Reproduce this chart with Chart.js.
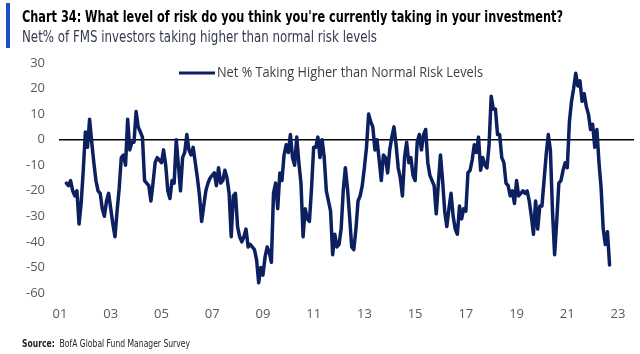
<!DOCTYPE html>
<html>
<head>
<meta charset="utf-8">
<script src="https://cdn.jsdelivr.net/npm/chart.js@4"></script>
<style>
  html, body { margin:0; padding:0; background:#fff; }
  #wrap { position:relative; width:640px; height:354px; overflow:hidden; }
  #c { position:absolute; left:0; top:0; }
  .t { position:absolute; white-space:nowrap; transform-origin:0 50%; }
  #bar { position:absolute; left:6px; top:3px; width:4px; height:45px; background:#1d4fc4; }
  #title { left:22px; top:7px; font:bold 16px "Liberation Sans Narrow","DejaVu Sans Condensed",sans-serif; color:#000; }
  #sub { left:22px; top:28px; font:15px "Liberation Sans Narrow","DejaVu Sans Condensed",sans-serif; color:#333a4d; }
  #src { left:22px; top:338px; font:10px "Liberation Sans Narrow","DejaVu Sans Condensed",sans-serif; color:#222; }
</style>
</head>
<body>
<div id="wrap">
  <canvas id="c" width="640" height="354"></canvas>
  <div id="bar"></div>
  <div class="t" id="title" data-w="541">Chart 34: What level of risk do you think you're currently taking in your investment?</div>
  <div class="t" id="sub" data-w="355">Net% of FMS investors taking higher than normal risk levels</div>
  <div class="t" id="src" data-w="168"><b>Source:</b>&nbsp; BofA Global Fund Manager Survey</div>
</div>
<script>
// ---- data (monthly, starting April 2001) ----
const startYear = 2001;
const startMonth = 4; // April
const seriesLabel = "Net % Taking Higher than Normal Risk Levels";
const values = [
  -17,-18,-16,-20,-22,-20,-33,-25,-12,3,-3,8,
  -1,-9,-16,-20,-21,-27,-30,-24,-21,-27,-33,-38,
  -28,-19,-7,-6,-10,8,-4,-1,-1,11,5,3,
  1,-16,-17,-18,-24,-17,-9,-7,-8,-9,-4,-10,
  -20,-23,-16,-17,0,-10,-20,-7,-5,2,-4,-6,
  -3,-9,-15,-22,-32,-26,-20,-17,-15,-14,-13,-18,
  -11,-17,-16,-12,-15,-21,-38,-22,-21,-34,-38,-40,
  -38,-35,-42,-41,-42,-43,-47,-56,-50,-53,-46,-42,
  -44,-48,-21,-17,-27,-13,-16,-6,-2,-5,2,-7,
  -10,1,-9,-17,-38,-27,-31,-32,-19,-3,-3,1,
  -7,0,-7,-20,-24,-28,-45,-37,-42,-41,-35,-20,
  -11,-19,-30,-42,-43,-35,-24,-22,-18,-11,-3,10,
  7,5,-4,0,-8,-16,-6,-7,-13,-4,1,5,
  -2,-11,-15,-22,-7,-1,-9,-7,-14,-16,-1,2,
  -4,2,4,-9,-14,-16,-18,-29,-17,-6,-16,-28,
  -34,-27,-21,-30,-35,-37,-26,-31,-27,-28,-13,-12,
  -8,-2,-5,1,-12,-7,-10,-11,-2,17,12,12,
  2,2,-7,-9,-17,-18,-22,-20,-25,-16,-22,-21,
  -20,-21,-20,-24,-30,-37,-24,-35,-26,-26,-16,-6,
  2,-4,-28,-45,-32,-17,-16,-12,-9,-11,7,15,
  20,26,21,23,15,18,13,10,4,6,-3,4,
  -9,-19,-35,-41,-36,-49
];
const xTickYears = [2001,2003,2005,2007,2009,2011,2013,2015,2017,2019,2021,2023];
const xTickLabels = ["01","03","05","07","09","11","13","15","17","19","21","23"];
const yTicks = [30,20,10,0,-10,-20,-30,-40,-50,-60];

const points = values.map((v, i) => ({ x: startYear + (startMonth - 1 + i) / 12, y: v }));

const lineColor = '#0c1f5f';
const tickColor = '#595959';
const tickFont = { family: "'Open Sans', sans-serif", size: 13 };

const legendPlugin = {
  id: 'inlineLegend',
  afterDraw(chart) {
    const ctx = chart.ctx;
    const ds = chart.data.datasets[0];
    ctx.save();
    ctx.strokeStyle = ds.borderColor;
    ctx.lineWidth = 3;
    ctx.beginPath();
    ctx.moveTo(179, 73); ctx.lineTo(215, 73);
    ctx.stroke();
    ctx.font = "14px 'Open Sans', sans-serif";
    ctx.fillStyle = '#404040';
    ctx.textBaseline = 'middle';
    const w = ctx.measureText(ds.label).width;
    const target = 266;
    ctx.translate(217, 73);
    ctx.scale(target / w, 1);
    ctx.fillText(ds.label, 0, 0);
    ctx.restore();
  }
};

new Chart(document.getElementById('c'), {
  type: 'line',
  data: {
    datasets: [{
      label: seriesLabel,
      data: points,
      borderColor: lineColor,
      backgroundColor: lineColor,
      borderWidth: 3.5,
      pointRadius: 0,
      tension: 0,
      borderJoinStyle: 'round',
      borderCapStyle: 'round'
    }]
  },
  options: {
    responsive: false,
    animation: false,
    devicePixelRatio: 1,
    layout: { padding: { left: 0, right: 6, top: 63, bottom: 0 } },
    plugins: { legend: { display: false }, tooltip: { enabled: false } },
    scales: {
      x: {
        type: 'linear',
        min: 2000.96,
        max: 2023.63,
        grid: { display: false },
        border: { display: false },
        afterBuildTicks: (scale) => { scale.ticks = xTickYears.map(v => ({ value: v })); },
        afterFit: (scale) => { scale.height = 61; },
        ticks: {
          color: tickColor, font: tickFont, padding: 5, maxRotation: 0, autoSkip: false,
          callback: (v) => { const k = xTickYears.indexOf(v); return k >= 0 ? xTickLabels[k] : ''; }
        }
      },
      y: {
        min: -60, max: 30,
        afterBuildTicks: (scale) => { scale.ticks = yTicks.map(v => ({ value: v })); },
        afterFit: (scale) => { scale.width = 59; },
        grid: {
          drawTicks: false,
          color: (c) => c.tick && c.tick.value === 0 ? '#000' : 'rgba(0,0,0,0)',
          lineWidth: 1.5
        },
        border: { display: false },
        ticks: { color: tickColor, font: tickFont, padding: 14 }
      }
    }
  },
  plugins: [legendPlugin]
});

// fit overlay texts to their reference widths
document.querySelectorAll('.t').forEach(el => {
  const w = el.getBoundingClientRect().width;
  const target = +el.dataset.w;
  el.style.transform = 'scaleX(' + (target / w) + ')';
});
</script>
</body>
</html>
